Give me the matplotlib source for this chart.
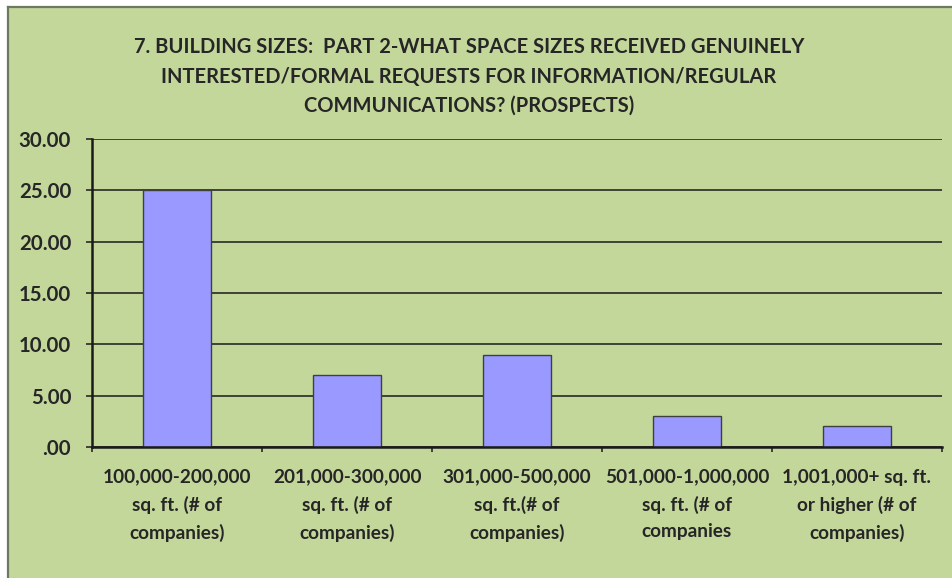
import matplotlib
matplotlib.use("Agg")
import matplotlib.pyplot as plt
from matplotlib.patches import Rectangle
from matplotlib.ticker import FuncFormatter, FixedLocator

title = ("7. BUILDING SIZES:  PART 2-WHAT SPACE SIZES RECEIVED GENUINELY\n"
         "INTERESTED/FORMAL REQUESTS FOR INFORMATION/REGULAR\n"
         "COMMUNICATIONS? (PROSPECTS)")
categories = [
    "100,000-200,000\nsq. ft. (# of\ncompanies)",
    "201,000-300,000\nsq. ft. (# of\ncompanies)",
    "301,000-500,000\nsq. ft.(# of\ncompanies)",
    "501,000-1,000,000\nsq. ft. (# of\ncompanies",
    "1,001,000+ sq. ft.\nor higher (# of\ncompanies)",
]
values = [25, 7, 9, 3, 2]
yticks = [0, 5, 10, 15, 20, 25, 30]

W, H = 953, 578
fig = plt.figure(figsize=(W / 100, H / 100), dpi=100)
fig.patch.set_facecolor("white")
bg = "#C4D79B"
# chart area background with border
fig.patches.append(Rectangle((9 / W, 0), 1 - 9 / W, 1 - 7 / H, transform=fig.transFigure,
                             facecolor=bg, edgecolor="none", zorder=-10))
fig.lines.append(plt.Line2D([8.5 / W, 8.5 / W], [0, 1 - 6.5 / H], transform=fig.transFigure,
                            color="#6e7a60", lw=1.6, zorder=-9))
fig.lines.append(plt.Line2D([8.5 / W, 1], [1 - 6.5 / H, 1 - 6.5 / H], transform=fig.transFigure,
                            color="#6e7a60", lw=1.6, zorder=-9))

left, right, top, bottom = 92, 942, 139, 447
ax = fig.add_axes([left / W, 1 - bottom / H, (right - left) / W, (bottom - top) / H])
ax.set_zorder(1)
ax.patch.set_visible(False)

font = "Lato"
txt = "#262626"
x = list(range(len(values)))
ax.bar(x, values, width=0.4, color="#9999FF", edgecolor="#3f3f3f", linewidth=1.0, zorder=3)
ax.set_xlim(-0.5, len(values) - 0.5)
ax.set_ylim(0, 30)
ax.set_yticks(yticks)
ax.yaxis.set_major_formatter(FuncFormatter(lambda v, p: (".00" if v == 0 else f"{v:.2f}")))
ax.grid(axis="y", color="#1a1a1a", lw=1.1, zorder=1)
ax.set_axisbelow(True)
for s in ["top", "right"]:
    ax.spines[s].set_visible(False)
for s in ["left", "bottom"]:
    ax.spines[s].set_color("#1a1a1a")
    ax.spines[s].set_linewidth(1.8)
    ax.spines[s].set_zorder(4)

ax.set_xticks(x)
ax.set_xticklabels(categories, fontsize=13.7, fontweight="bold", color=txt, family=font,
                   linespacing=1.68)
ax.xaxis.set_minor_locator(FixedLocator([i - 0.5 for i in range(len(values) + 1)]))
ax.tick_params(axis="x", which="major", length=0, pad=15.5)
ax.tick_params(axis="x", which="minor", length=3.5, width=1.1, color="#1a1a1a", direction="out")
ax.tick_params(axis="y", length=4, width=1.1, color="#1a1a1a", pad=11, labelsize=14.7,
               labelcolor=txt)
for lab in ax.get_yticklabels():
    lab.set_fontweight("bold")
    lab.set_family(font)

fig.text(469 / W, 1 - 76.5 / H, title, ha="center", va="center", fontsize=14.5, fontweight="bold",
         color=txt, family=font, linespacing=1.6)

fig.savefig("out.png", dpi=100, facecolor=fig.get_facecolor())
